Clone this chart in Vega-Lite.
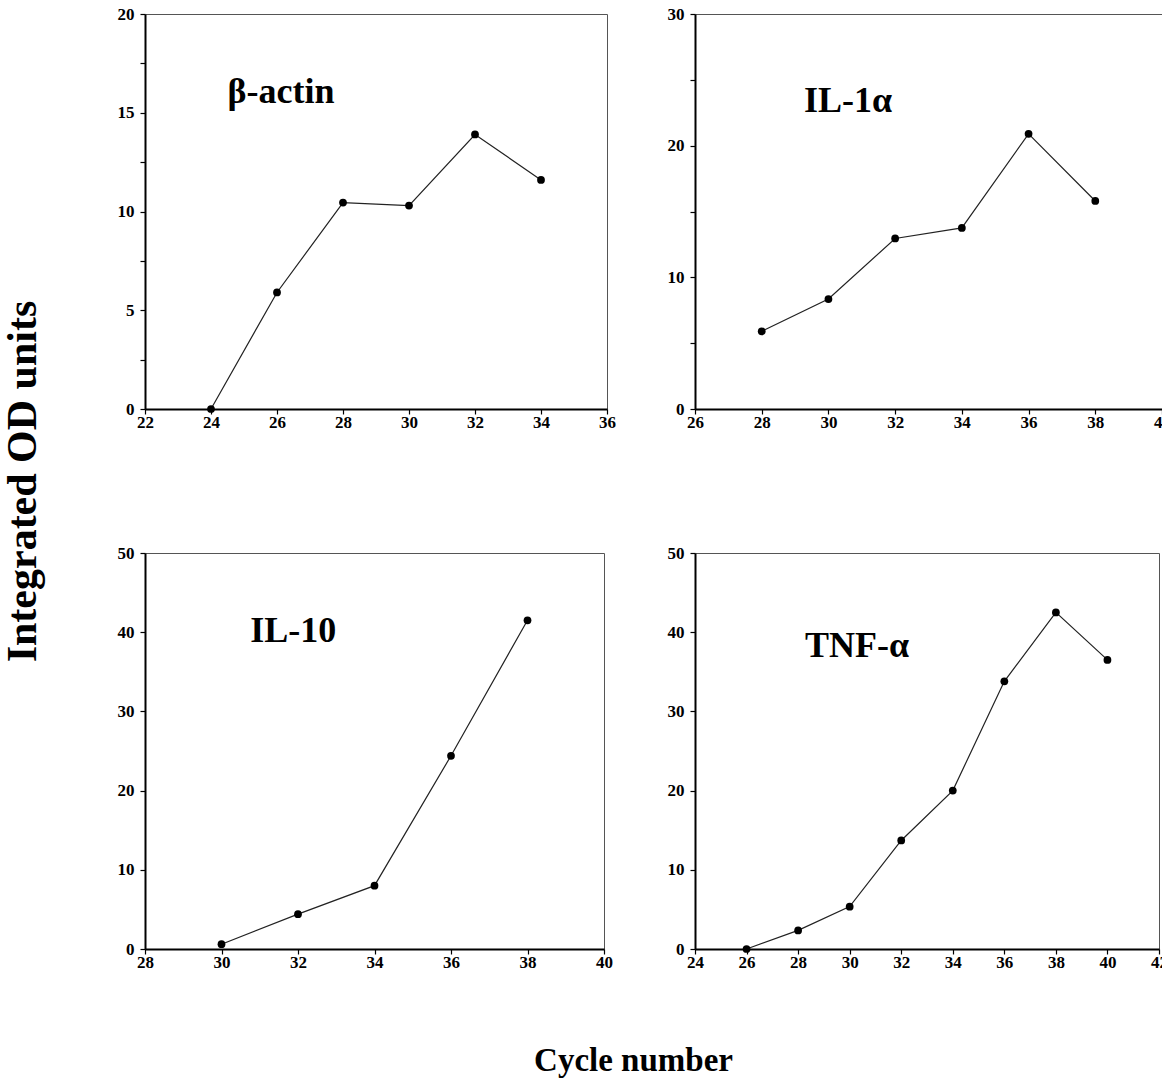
{
  "$schema": "https://vega.github.io/schema/vega-lite/v6.json",
  "background": "white",
  "padding": {"left": 0, "top": 4, "right": 0, "bottom": 0},
  "datasets": {
    "actin": [
      {"cycle": 24, "od": 0},
      {"cycle": 26, "od": 5.9},
      {"cycle": 28, "od": 10.45},
      {"cycle": 30, "od": 10.3},
      {"cycle": 32, "od": 13.9},
      {"cycle": 34, "od": 11.6}
    ],
    "il1a": [
      {"cycle": 28, "od": 5.9},
      {"cycle": 30, "od": 8.35},
      {"cycle": 32, "od": 12.95},
      {"cycle": 34, "od": 13.75},
      {"cycle": 36, "od": 20.9},
      {"cycle": 38, "od": 15.8}
    ],
    "il10": [
      {"cycle": 30, "od": 0.6},
      {"cycle": 32, "od": 4.4},
      {"cycle": 34, "od": 8.0},
      {"cycle": 36, "od": 24.4},
      {"cycle": 38, "od": 41.5}
    ],
    "tnfa": [
      {"cycle": 26, "od": 0},
      {"cycle": 28, "od": 2.35},
      {"cycle": 30, "od": 5.35},
      {"cycle": 32, "od": 13.7},
      {"cycle": 34, "od": 20.0},
      {"cycle": 36, "od": 33.8},
      {"cycle": 38, "od": 42.5},
      {"cycle": 40, "od": 36.5}
    ]
  },
  "bounds": "flush",
  "columns": 2,
  "spacing": {"row": 144, "column": 88},
  "concat": [
    {
      "width": 462,
      "height": 395,
      "data": {"name": "actin"},
      "layer": [
        {
          "mark": {"type": "line", "color": "#222", "strokeWidth": 1.2},
          "encoding": {
            "x": {"field": "cycle", "type": "quantitative", "scale": {"domain": [22, 36], "nice": false, "zero": false},
              "axis": {"values": [22,23,24,25,26,27,28,29,30,31,32,33,34,35,36], "labelExpr": "datum.value % 2 == 0 ? datum.label : ''", "title": null}},
            "y": {"field": "od", "type": "quantitative", "scale": {"domain": [0, 20], "nice": false},
              "axis": {"values": [0,2.5,5,7.5,10,12.5,15,17.5,20], "labelExpr": "datum.value % 5 == 0 ? datum.label : ''",
                "title": "Integrated OD units", "titleFontSize": 42, "titleX": -123, "titleY": 467, "titleAngle": 270, "titleBaseline": "middle", "titleAlign": "center"}}
          }
        },
        {
          "mark": {"type": "point", "filled": true, "color": "#000", "size": 60, "opacity": 1},
          "encoding": {"x": {"field": "cycle", "type": "quantitative"}, "y": {"field": "od", "type": "quantitative"}}
        },
        {
          "data": {"values": [{"label": "β-actin"}]},
          "mark": {"type": "text", "font": "Liberation Serif", "fontWeight": "bold", "fontSize": 36, "align": "left", "baseline": "alphabetic", "color": "#000"},
          "encoding": {"x": {"datum": 24.5, "type": "quantitative"}, "y": {"datum": 15.5, "type": "quantitative"}, "text": {"field": "label"}}
        }
      ]
    },
    {
      "width": 467,
      "height": 395,
      "data": {"name": "il1a"},
      "layer": [
        {
          "mark": {"type": "line", "color": "#222", "strokeWidth": 1.2},
          "encoding": {
            "x": {"field": "cycle", "type": "quantitative", "scale": {"domain": [26, 40], "nice": false, "zero": false},
              "axis": {"values": [26,27,28,29,30,31,32,33,34,35,36,37,38,39,40], "labelExpr": "datum.value % 2 == 0 ? datum.label : ''", "title": null}},
            "y": {"field": "od", "type": "quantitative", "scale": {"domain": [0, 30], "nice": false},
              "axis": {"values": [0,5,10,15,20,25,30], "labelExpr": "datum.value % 10 == 0 ? datum.label : ''", "title": null}}
          }
        },
        {
          "mark": {"type": "point", "filled": true, "color": "#000", "size": 60, "opacity": 1},
          "encoding": {"x": {"field": "cycle", "type": "quantitative"}, "y": {"field": "od", "type": "quantitative"}}
        },
        {
          "data": {"values": [{"label": "IL-1α"}]},
          "mark": {"type": "text", "font": "Liberation Serif", "fontWeight": "bold", "fontSize": 36, "align": "left", "baseline": "alphabetic", "color": "#000"},
          "encoding": {"x": {"datum": 29.27, "type": "quantitative"}, "y": {"datum": 22.55, "type": "quantitative"}, "text": {"field": "label"}}
        }
      ]
    },
    {
      "width": 459,
      "height": 396,
      "data": {"name": "il10"},
      "layer": [
        {
          "mark": {"type": "line", "color": "#222", "strokeWidth": 1.2},
          "encoding": {
            "x": {"field": "cycle", "type": "quantitative", "scale": {"domain": [28, 40], "nice": false, "zero": false},
              "axis": {"values": [28,29,30,31,32,33,34,35,36,37,38,39,40], "labelExpr": "datum.value % 2 == 0 ? datum.label : ''",
                "title": "Cycle number", "titleFontSize": 33, "titleX": 488, "titleY": 111, "titleBaseline": "middle", "titleAlign": "center", "titleAngle": 0}},
            "y": {"field": "od", "type": "quantitative", "scale": {"domain": [0, 50], "nice": false},
              "axis": {"values": [0,5,10,15,20,25,30,35,40,45,50], "labelExpr": "datum.value % 10 == 0 ? datum.label : ''", "title": null}}
          }
        },
        {
          "mark": {"type": "point", "filled": true, "color": "#000", "size": 60, "opacity": 1},
          "encoding": {"x": {"field": "cycle", "type": "quantitative"}, "y": {"field": "od", "type": "quantitative"}}
        },
        {
          "data": {"values": [{"label": "IL-10"}]},
          "mark": {"type": "text", "font": "Liberation Serif", "fontWeight": "bold", "fontSize": 36, "align": "left", "baseline": "alphabetic", "color": "#000"},
          "encoding": {"x": {"datum": 30.75, "type": "quantitative"}, "y": {"datum": 38.8, "type": "quantitative"}, "text": {"field": "label"}}
        }
      ]
    },
    {
      "width": 464,
      "height": 396,
      "data": {"name": "tnfa"},
      "layer": [
        {
          "mark": {"type": "line", "color": "#222", "strokeWidth": 1.2},
          "encoding": {
            "x": {"field": "cycle", "type": "quantitative", "scale": {"domain": [24, 42], "nice": false, "zero": false},
              "axis": {"values": [24,25,26,27,28,29,30,31,32,33,34,35,36,37,38,39,40,41,42], "labelExpr": "datum.value % 2 == 0 ? datum.label : ''", "title": null}},
            "y": {"field": "od", "type": "quantitative", "scale": {"domain": [0, 50], "nice": false},
              "axis": {"values": [0,5,10,15,20,25,30,35,40,45,50], "labelExpr": "datum.value % 10 == 0 ? datum.label : ''", "title": null}}
          }
        },
        {
          "mark": {"type": "point", "filled": true, "color": "#000", "size": 60, "opacity": 1},
          "encoding": {"x": {"field": "cycle", "type": "quantitative"}, "y": {"field": "od", "type": "quantitative"}}
        },
        {
          "data": {"values": [{"label": "TNF-α"}]},
          "mark": {"type": "text", "font": "Liberation Serif", "fontWeight": "bold", "fontSize": 36, "align": "left", "baseline": "alphabetic", "color": "#000"},
          "encoding": {"x": {"datum": 28.27, "type": "quantitative"}, "y": {"datum": 36.9, "type": "quantitative"}, "text": {"field": "label"}}
        }
      ]
    }
  ],
  "config": {
    "view": {"stroke": "#555", "strokeWidth": 1},
    "axis": {
      "domainColor": "#000", "domainWidth": 2, "tickColor": "#000", "tickWidth": 1.2, "tickSize": 5, "grid": false,
      "labelFont": "Liberation Serif", "labelFontWeight": "bold", "labelFontSize": 17, "labelColor": "#000",
      "titleFont": "Liberation Serif", "titleFontWeight": "bold", "titleColor": "#000",
      "labelFlush": false, "labelOverlap": false
    },
    "axisX": {"labelPadding": 0},
    "axisY": {"labelPadding": 6}
  }
}
